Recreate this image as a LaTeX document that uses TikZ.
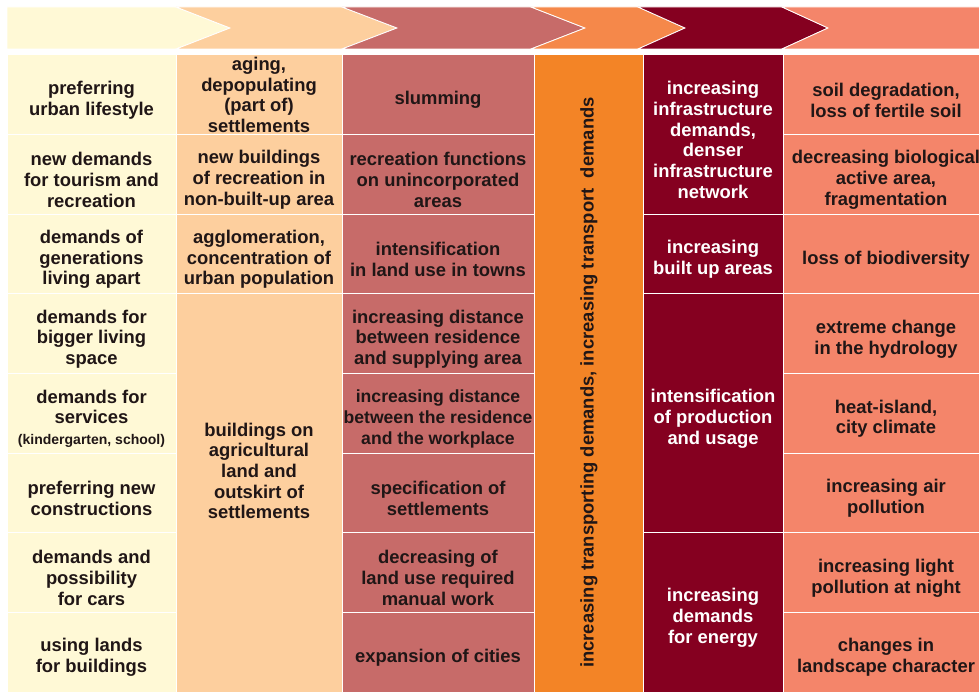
\documentclass[tikz,border=0pt]{standalone}
\usepackage{fontspec}
\setmainfont{Liberation Sans}
\usepackage{tikz}

\definecolor{creamC}{RGB}{255,249,214}
\definecolor{peachC}{RGB}{253,207,158}
\definecolor{roseC}{RGB}{199,107,105}
\definecolor{orangeA}{RGB}{245,136,74}
\definecolor{orangeC}{RGB}{243,132,38}
\definecolor{wineC}{RGB}{133,0,32}
\definecolor{salmonC}{RGB}{244,133,106}
\definecolor{inkC}{RGB}{32,22,22}

\newcommand{\cellfont}{\fontsize{18.4}{20.7}\selectfont\bfseries}
\newcommand{\narrowfont}{\fontsize{17.6}{20.7}\selectfont\bfseries}
\newcommand{\smallfont}{\fontsize{14}{18}\selectfont\bfseries}
% strut that lowers the text a little inside its cell
\newcommand{\tp}{\rule{0pt}{24pt}}

\tikzset{
  chev/.style={draw=white, line width=0.8pt},
  cell/.style={draw=white, line width=1pt, align=center, inner sep=0pt, text=inkC, font=\cellfont},
  txt/.style={align=center, inner sep=0pt, text=inkC, font=\cellfont},
  colA/.style={cell, fill=creamC, minimum width=169pt, minimum height=79.6pt},
  colB/.style={cell, fill=peachC, minimum width=166pt, minimum height=79.6pt},
  colC/.style={cell, fill=roseC, minimum width=192pt, minimum height=79.6pt},
  colE/.style={cell, fill=wineC, text=white, minimum width=140pt, minimum height=79.6pt},
  colF/.style={cell, fill=salmonC, minimum width=206pt, minimum height=79.6pt}
}

\begin{document}
\begin{tikzpicture}[x=1pt,y=1pt,yscale=-1,xscale=1]
\useasboundingbox (0,0) rectangle (979,692);
\clip (0,0) rectangle (979,692);

%Chevrons
\draw[chev, fill=creamC] (7,7) -- (176,7) -- (230,28) -- (176,49) -- (7,49) -- cycle;
\draw[chev, fill=peachC] (176,7) -- (342,7) -- (397,28) -- (342,49) -- (176,49) -- (230,28) -- cycle;
\draw[chev, fill=roseC] (342,7) -- (531,7) -- (585,28) -- (531,49) -- (342,49) -- (397,28) -- cycle;
\draw[chev, fill=orangeA] (531,7) -- (638,7) -- (685,28) -- (638,49) -- (531,49) -- (585,28) -- cycle;
\draw[chev, fill=wineC] (638,7) -- (782,7) -- (828,28) -- (782,49) -- (638,49) -- (685,28) -- cycle;
\draw[chev, fill=salmonC] (782,7) -- (995,7) -- (995,49) -- (782,49) -- (828,28) -- cycle;

% Column 1
\node[colA] (a1) at (91.5,94.8) {\tp preferring\\urban lifestyle};
\node[colA] (a2) at (91.5,174.4) {\tp new demands\\for tourism and\\recreation};
\node[colA] (a3) at (91.5,254.1) {\tp demands of\\generations\\living apart};
\node[colA] (a4) at (91.5,333.7) {\tp demands for\\bigger living\\space};
\node[colA] (a5) at (91.5,413.3) {\tp demands for\\services\\{\smallfont (kindergarten, school)}};
\node[colA] (a6) at (91.5,493.0) {\tp preferring new\\constructions};
\node[colA] (a7) at (91.5,572.6) {\tp demands and\\possibility\\for cars};
\node[colA] (a8) at (91.5,652.2) {\tp using lands\\for buildings};

% Column 2
\node[colB] (b1) at (259,94.8) {aging,\\depopulating\\(part of)\\settlements};
\node[colB] (b2) at (259,174.4) {\tp new buildings\\of recreation in\\non-built-up area};
\node[colB] (b3) at (259,254.1) {\tp agglomeration,\\concentration of\\urban population};
\node[colB, minimum height=398.1pt] (b4) at (259,493) {};
\node[txt] (b4t) at (259,471) {buildings on\\agricultural\\land and\\outskirt of\\settlements};

% Column 3
\node[colC] (c1) at (438,94.8) {\tp slumming};
\node[colC] (c2) at (438,174.4) {\tp recreation functions\\on unincorporated\\areas};
\node[colC] (c3) at (438,254.1) {\tp intensification\\in land use in towns};
\node[colC] (c4) at (438,333.7) {\tp increasing distance\\between residence\\and supplying area};
\node[colC, font=\narrowfont] (c5) at (438,413.3) {\tp increasing distance\\between the residence\\and the workplace};
\node[colC] (c6) at (438,493.0) {\tp specification of\\settlements};
\node[colC] (c7) at (438,572.6) {\tp decreasing of\\land use required\\manual work};
\node[colC] (c8) at (438,652.2) {\tp expansion of cities};

% Column 4
\node[cell, fill=orangeC, minimum width=109pt, minimum height=637pt] (d) at (588.5,373.5) {};
\node[txt, rotate=90] (dt) at (589,382.5) {increasing transporting demands, increasing transport\ \ demands};

% Column 5
\node[colE, minimum height=159.2pt] (e1) at (713,134.6) {\tp increasing\\infrastructure\\demands,\\denser\\infrastructure\\network};
\node[colE] (e2) at (713,254.1) {\tp increasing\\built up areas};
\node[colE, minimum height=238.9pt] (e3) at (713,413.3) {\tp intensification\\of production\\and usage};
\node[colE, minimum height=159.2pt] (e4) at (713,612.4) {\tp increasing\\demands\\for energy};

% Column 6
\node[colF] (f1) at (886,94.8) {\tp soil degradation,\\loss of fertile soil};
\node[colF] (f2) at (886,174.4) {\tp decreasing biological\\active area,\\fragmentation};
\node[colF] (f3) at (886,254.1) {\tp loss of biodiversity};
\node[colF] (f4) at (886,333.7) {\tp extreme change\\in the hydrology};
\node[colF] (f5) at (886,413.3) {\tp heat-island,\\city climate};
\node[colF] (f6) at (886,493.0) {\tp increasing air\\pollution};
\node[colF] (f7) at (886,572.6) {\tp increasing light\\pollution at night};
\node[colF] (f8) at (886,652.2) {\tp changes in\\landscape character};

\end{tikzpicture}
\end{document}
